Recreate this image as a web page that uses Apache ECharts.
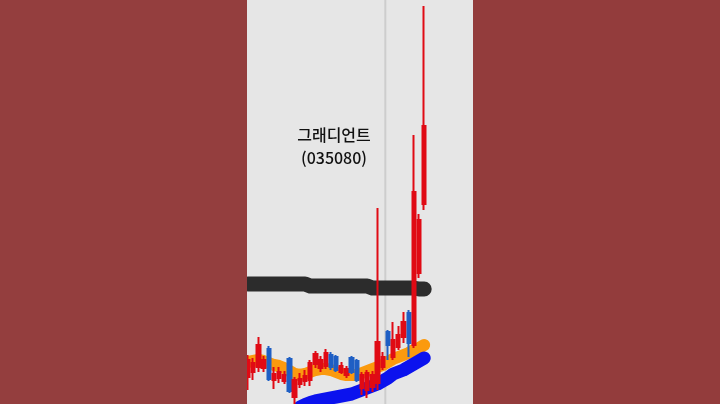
<!DOCTYPE html>
<html>
<head>
<meta charset="utf-8">
<script src="https://cdn.jsdelivr.net/npm/echarts@6/dist/echarts.min.js"></script>
<style>
  html, body { margin: 0; padding: 0; background: #943e3e; }
  #chart { width: 720px; height: 404px; }
</style>
</head>
<body>
<div id="chart"></div>
<script>
// ---- data (prices in arbitrary units) ----
const stockName = '그래디언트';
const stockCode = '(035080)';

const days = ['D1','D2','D3','D4','D5','D6','D7','D8','D9','D10','D11','D12','D13','D14','D15','D16','D17','D18','D19','D20','D21','D22','D23','D24','D25','D26','D27','D28','D29','D30','D31','D32','D33','D34','D35'];

// [open, close, low, high]
const candles = [
  [270, 440, 140, 490],
  [320, 410, 240, 460],
  [370, 590, 320, 670],
  [360, 440, 320, 480],
  [550, 250, 230, 580],
  [240, 300, 150, 370],
  [260, 320, 210, 370],
  [230, 290, 200, 330],
  [450, 130, 110, 470],
  [70, 240, -20, 270],
  [200, 250, 160, 310],
  [230, 280, 180, 340],
  [240, 410, 180, 440],
  [400, 500, 360, 530],
  [360, 440, 320, 480],
  [380, 510, 350, 550],
  [490, 370, 340, 520],
  [470, 340, 320, 490],
  [320, 380, 300, 420],
  [290, 350, 260, 380],
  [460, 320, 300, 480],
  [430, 240, 220, 450],
  [160, 290, 90, 320],
  [140, 310, 60, 340],
  [170, 290, 120, 330],
  [210, 620, 140, 1960],
  [370, 470, 340, 520],
  [720, 590, 440, 740],
  [470, 640, 440, 820],
  [570, 690, 540, 780],
  [670, 820, 610, 920],
  [910, 610, 470, 940],
  [590, 2120, 560, 2690],
  [1310, 1840, 1260, 1900],
  [2000, 2780, 1940, 3980]
];

const maShort = [420, 430, 440, 430, 410, 390, 380, 360, 330, 300, 290, 300, 320, 340, 350, 350, 340, 320, 300, 290, 290, 290, 310, 330, 350, 370, 390, 420, 450, 470, 490, 510, 540, 560, 590];

const maMid = [null, null, null, null, null, null, null, null, null, null, -30, -5, 15, 30, 40, 50, 60, 70, 80, 90, 100, 120, 140, 160, 180, 200, 230, 260, 300, 320, 340, 370, 400, 430, 460];

const maLong = [1200, 1200, 1200, 1200, 1200, 1200, 1200, 1200, 1200, 1200, 1200, 1200, 1180, 1180, 1180, 1180, 1180, 1180, 1180, 1180, 1180, 1180, 1180, 1180, 1160, 1160, 1160, 1160, 1160, 1160, 1160, 1160, 1160, 1150, 1150];

const cursorAt = 26.5; // vertical cursor between day 27 and 28

// ---- chart ----
const chart = echarts.init(document.getElementById('chart'), null, { renderer: 'canvas' });
const n = days.length;

chart.setOption({
  backgroundColor: '#943e3e',
  animation: false,
  title: {
    text: stockName + '\n' + stockCode,
    left: 329,
    top: 118,
    textAlign: 'center',
    textStyle: {
      fontFamily: '"Noto Sans CJK KR", "Noto Sans", sans-serif',
      fontSize: 16,
      fontWeight: 500,
      color: '#111111',
      lineHeight: 23
    }
  },
  graphic: [
    { type: 'rect', z: -5, shape: { x: 247, y: 0, width: 226, height: 404 }, style: { fill: '#e6e6e6' } },
    { type: 'rect', z: 100, shape: { x: 0, y: 0, width: 247, height: 404 }, style: { fill: '#943e3e' } },
    { type: 'rect', z: 100, shape: { x: 473, y: 0, width: 247, height: 404 }, style: { fill: '#933c3c' } }
  ],
  grid: { left: 245.41, width: 181.38, top: 0, height: 404 },
  xAxis: [
    { type: 'category', data: days, show: false, boundaryGap: true },
    { type: 'value', min: -0.5, max: n - 0.5, show: false }
  ],
  yAxis: { type: 'value', min: 0, max: 4040, show: false, splitLine: { show: false } },
  series: [
    {
      type: 'line', xAxisIndex: 1, z: 1,
      data: [[cursorAt, 0], [cursorAt, 4040]],
      symbol: 'none', silent: true,
      lineStyle: { color: '#cdcdcd', width: 2 }
    },
    {
      type: 'line', name: 'long', z: 2,
      data: maLong, symbol: 'none', smooth: false,
      lineStyle: { color: '#2c2c2c', width: 15, cap: 'round', join: 'round' }
    },
    {
      type: 'line', name: 'short', z: 3,
      data: maShort, symbol: 'none',
      lineStyle: { color: '#fb9a0e', width: 12, cap: 'round', join: 'round' }
    },
    {
      type: 'line', name: 'mid', z: 3,
      data: maMid, symbol: 'none',
      lineStyle: { color: '#0b12ee', width: 13, cap: 'round', join: 'round' }
    },
    {
      type: 'candlestick', z: 5,
      data: candles,
      barWidth: 3.8,
      itemStyle: {
        color: '#e00a14', borderColor: '#e00a14',
        color0: '#1f5fc4', borderColor0: '#1f5fc4',
        borderWidth: 2
      }
    }
  ]
});
</script>
</body>
</html>
